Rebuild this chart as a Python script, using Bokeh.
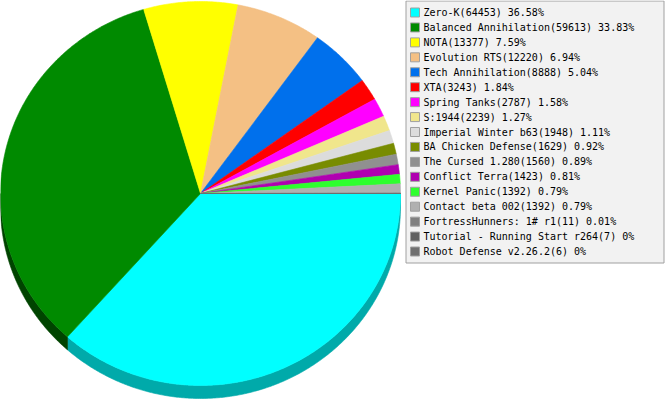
import numpy as np
from bokeh.plotting import figure
from bokeh.models import Range1d, ColumnDataSource
from bokeh.core.properties import value
from bokeh.embed import file_html
from bokeh.resources import INLINE

# Game usage counts
names = [
    "Zero-K", "Balanced Annihilation", "NOTA", "Evolution RTS",
    "Tech Annihilation", "XTA", "Spring Tanks", "S:1944",
    "Imperial Winter b63", "BA Chicken Defense", "The Cursed 1.280",
    "Conflict Terra", "Kernel Panic", "Contact beta 002",
    "FortressHunners: 1# r1", "Tutorial - Running Start r264",
    "Robot Defense v2.26.2",
]
counts = [64453, 59613, 13377, 12220, 8888, 3243, 2787, 2239, 1948,
          1629, 1560, 1423, 1392, 1392, 11, 7, 6]
colors = ["#00ffff", "#008a00", "#ffff00", "#f4c084", "#0070ec", "#ff0000",
          "#ff00ff", "#f0e68c", "#dcdcdc", "#788c00", "#909090", "#b000b0",
          "#2eff2e", "#b0b0b0", "#808080", "#606060", "#707070"]
side_colors = ["#00aaaa", "#004400", "#aaaa00", "#a38055", "#004a9d", "#aa0000",
               "#aa00aa", "#a0995d", "#939393", "#505d00", "#606060", "#750075",
               "#1eaa1e", "#757575", "#555555", "#404040", "#4a4a4a"]

# pie geometry in pixel space (y grows downward)
cx, cy, rx, ry, depth = 200.0, 193.0, 200.0, 192.0, 13.0

total = float(sum(counts))
fracs = np.array(counts) / total
ends = np.cumsum(fracs) * 2 * np.pi
starts = ends - fracs * 2 * np.pi


def arc(a0, a1):
    n = max(2, int((a1 - a0) / (2 * np.pi) * 720) + 2)
    t = np.linspace(a0, a1, n)
    return cx + rx * np.cos(t), cy + ry * np.sin(t)


top_xs, top_ys, side_xs, side_ys, side_cols = [], [], [], [], []
for a0, a1, sc in zip(starts, ends, side_colors):
    ax, ay = arc(a0, a1)
    top_xs.append(np.concatenate([[cx], ax]))
    top_ys.append(np.concatenate([[cy], ay]))
    # visible rim only on the lower half of the ellipse
    b0, b1 = max(a0, 0.0), min(a1, np.pi)
    if b1 > b0:
        bx, by = arc(b0, b1)
        side_xs.append(np.concatenate([bx, bx[::-1]]))
        side_ys.append(np.concatenate([by, by[::-1] + depth]))
        side_cols.append(sc)

p = figure(width=665, height=400, output_backend="svg", toolbar_location=None,
           x_range=Range1d(0, 665), y_range=Range1d(400, 0), min_border=0,
           background_fill_color="white", border_fill_color="white")
p.axis.visible = False
p.grid.visible = False
p.outline_line_color = None

p.patches(side_xs, side_ys, fill_color=side_cols, line_color=side_cols, line_width=0.6)
p.patches(top_xs, top_ys, fill_color=colors, line_color=colors, line_width=0.6)

# legend box
p.quad(left=405.5, right=663.5, top=0.5, bottom=262.5,
       fill_color="#f2f2f2", line_color="#a0a0a0", line_width=1)

pct = [f"{round(f * 100, 2):g}%" for f in fracs]
labels = [f"{n}({c}) {q}" for n, c, q in zip(names, counts, pct)]
rows = 12 + np.arange(len(names)) * (239.0 / 16)
src = ColumnDataSource(dict(y=rows, label=labels, color=colors))
p.rect(x=414.5, y="y", width=9, height=9, fill_color="color",
       line_color="#a0a0a0", line_width=1, source=src)
p.text(x=423, y="y", text="label", text_font=value("DejaVu Sans Mono"),
       text_font_size="10px", text_baseline="middle", text_color="black",
       source=src)

open("out.html", "w").write(file_html(p, INLINE))
